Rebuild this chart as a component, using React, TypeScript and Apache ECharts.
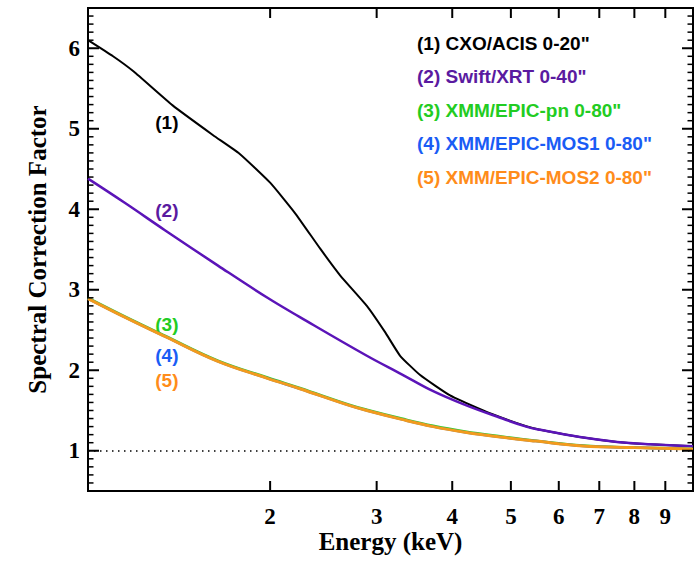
import React, { useEffect, useRef } from "react";
import * as echarts from "echarts";

// ---- data ----
const energyCXO = [1.0, 1.1, 1.19, 1.38, 1.61, 1.78, 2.0, 2.2, 2.42, 2.61, 2.89, 3.1, 3.28, 3.54, 3.96, 4.5, 4.93, 5.3, 5.59, 6.5, 7.49, 8.5, 10];
const factorCXO = [6.1, 5.9, 5.71, 5.29, 4.92, 4.69, 4.33, 3.95, 3.51, 3.18, 2.8, 2.47, 2.18, 1.94, 1.69, 1.5, 1.385, 1.305, 1.26, 1.17, 1.11, 1.08, 1.055];

const energyXRT = [1.0, 1.15, 1.34, 1.64, 1.98, 2.24, 2.89, 3.3, 3.72, 4.2, 4.8, 5.3, 5.59, 6.5, 7.49, 8.5, 10];
const factorXRT = [4.38, 4.08, 3.74, 3.3, 2.9, 2.66, 2.18, 1.95, 1.74, 1.57, 1.41, 1.3, 1.26, 1.17, 1.11, 1.08, 1.055];

const energyEPIC = [1.0, 1.15, 1.34, 1.64, 1.98, 2.24, 2.71, 2.89, 3.3, 3.72, 4.2, 4.8, 5.5, 6.58, 8, 9.6, 10];
const factorPN = [2.9, 2.67, 2.43, 2.12, 1.91, 1.78, 1.57, 1.51, 1.4, 1.31, 1.24, 1.18, 1.125, 1.065, 1.04, 1.028, 1.022];
const factorMOS1 = [2.89, 2.66, 2.42, 2.11, 1.9, 1.77, 1.56, 1.5, 1.39, 1.3, 1.23, 1.17, 1.12, 1.06, 1.04, 1.025, 1.02];
const factorMOS2 = [2.89, 2.66, 2.42, 2.11, 1.9, 1.77, 1.56, 1.5, 1.39, 1.3, 1.23, 1.17, 1.12, 1.06, 1.04, 1.025, 1.02];

const seriesNames = [
  '(1) CXO/ACIS 0-20"',
  '(2) Swift/XRT 0-40"',
  '(3) XMM/EPIC-pn 0-80"',
  '(4) XMM/EPIC-MOS1 0-80"',
  '(5) XMM/EPIC-MOS2 0-80"',
];
const curveTags = ["(1)", "(2)", "(3)", "(4)", "(5)"];
// label anchor positions in data space (energy keV, factor)
const tagEnergy = [1.35, 1.35, 1.35, 1.35, 1.35];
const tagFactor = [5.08, 3.99, 2.57, 2.18, 1.87];

// axis ranges and ticks
const X_MIN = 1;
const X_MAX = 10;
const Y_MIN = 0.5;
const Y_MAX = 6.5;
const xTickEnergies = [2, 3, 4, 5, 6, 7, 8, 9];
const yMajorTicks = [1, 2, 3, 4, 5, 6];
const yMinorStep = 0.1;
const referenceLevel = 1;

const lineColors = ["#000000", "#5b14b8", "#2ed02e", "#1a5cf5", "#f29b1d"];
const textColors = ["#000000", "#5a1aa0", "#22cc22", "#1a5cf5", "#ff8c1a"];
const lineWidths = [2, 2.5, 2.5, 2.5, 3];

const pairs = (xs: number[], ys: number[]) => xs.map((x, i) => [x, ys[i]]);

const W = 697;
const H = 562;
const G = { left: 88, right: 4, top: 8, bottom: 71 };

export default function App() {
  const ref = useRef<HTMLDivElement>(null);
  useEffect(() => {
    if (!ref.current) return;
    const chart = echarts.init(ref.current, null, { renderer: "svg" });
    const serif = "Liberation Serif";
    const sans = "Liberation Sans";

    const datasets = [
      pairs(energyCXO, factorCXO),
      pairs(energyXRT, factorXRT),
      pairs(energyEPIC, factorPN),
      pairs(energyEPIC, factorMOS1),
      pairs(energyEPIC, factorMOS2),
    ];

    const yTickValues: number[] = [];
    const nMinor = Math.round((Y_MAX - Y_MIN) / yMinorStep);
    for (let k = 1; k < nMinor; k++) yTickValues.push(Math.round((Y_MIN + k * yMinorStep) * 10) / 10);
    const isMajor = (v: number) => yMajorTicks.indexOf(Math.round(v * 10) / 10) >= 0;

    const tickSeries = (name: string, data: number[][], side: "bottom" | "top" | "left" | "right") => ({
      name,
      type: "custom",
      xAxisIndex: 0,
      yAxisIndex: 0,
      silent: true,
      z: 20,
      clip: false,
      encode: { x: 0, y: 1 },
      data,
      renderItem: (params: any, api: any) => {
        const c = api.coord([api.value(0), api.value(1)]);
        let dx = 0;
        let dy = 0;
        let lw = 2;
        if (side === "bottom") dy = -10;
        else if (side === "top") dy = 10;
        else {
          const major = isMajor(api.value(1));
          const len = major ? 11 : 5.5;
          lw = major ? 2 : 1.5;
          dx = side === "left" ? len : -len;
        }
        return {
          type: "line",
          shape: { x1: c[0], y1: c[1], x2: c[0] + dx, y2: c[1] + dy },
          style: { stroke: "#000", lineWidth: lw },
        };
      },
    });

    const xLabelData = xTickEnergies.map((e) => [e, Y_MIN]);

    const option: any = {
      animation: false,
      backgroundColor: "#fff",
      grid: {
        left: G.left,
        right: G.right,
        top: G.top,
        bottom: G.bottom,
        show: true,
        borderColor: "#000",
        borderWidth: 2,
        backgroundColor: "transparent",
      },
      legend: {
        orient: "vertical",
        left: 412,
        top: 33,
        padding: 0,
        icon: "none",
        itemWidth: 0,
        itemHeight: 20,
        itemGap: 13.5,
        selectedMode: false,
        textStyle: { fontFamily: sans, fontWeight: "bold", fontSize: 19, lineHeight: 20 },
        data: seriesNames.map((n, i) => ({ name: n, textStyle: { color: textColors[i] } })),
      },
      xAxis: [
        { type: "log", logBase: 10, min: X_MIN, max: X_MAX, show: false },
        {
          type: "value",
          position: "bottom",
          min: 0,
          max: 1,
          axisLine: { show: false },
          splitLine: { show: false },
          axisTick: { show: false },
          axisLabel: { show: false },
          name: "Energy (keV)",
          nameLocation: "middle",
          nameGap: 38,
          nameTextStyle: { fontFamily: serif, fontWeight: "bold", fontSize: 25, color: "#000" },
        },
      ],
      yAxis: [
        {
          type: "value",
          position: "left",
          min: Y_MIN,
          max: Y_MAX,
          interval: 0.5,
          axisLine: { show: false },
          splitLine: { show: false },
          axisTick: { show: false },
          axisLabel: {
            show: true,
            margin: 8,
            formatter: (v: number) => (yMajorTicks.indexOf(v) >= 0 ? String(v) : ""),
            fontFamily: serif,
            fontWeight: "bold",
            fontSize: 23,
            color: "#000",
          },
          name: "Spectral Correction Factor",
          nameLocation: "middle",
          nameGap: 38,
          nameRotate: 90,
          nameTextStyle: { fontFamily: serif, fontWeight: "bold", fontSize: 25, color: "#000" },
        },
      ],
      series: [
        ...datasets.map((d, i) => ({
          name: seriesNames[i],
          type: "line",
          xAxisIndex: 0,
          yAxisIndex: 0,
          data: d,
          showSymbol: false,
          symbol: "none",
          smooth: i === 0 ? 0.15 : 0.4,
          z: 2 + i,
          lineStyle: { color: lineColors[i], width: lineWidths[i] },
          itemStyle: { color: lineColors[i] },
          markPoint: {
            symbol: "circle",
            symbolSize: 0,
            silent: true,
            data: [
              {
                coord: [tagEnergy[i], tagFactor[i]],
                label: {
                  show: true,
                  position: "inside",
                  formatter: curveTags[i],
                  fontFamily: sans,
                  fontWeight: "bold",
                  fontSize: 19,
                  color: textColors[i],
                },
              },
            ],
          },
          markLine:
            i === 0
              ? {
                  silent: true,
                  symbol: "none",
                  label: { show: false },
                  lineStyle: { color: "#000", width: 1.5, type: [1.5, 4.5] },
                  data: [{ yAxis: referenceLevel }],
                }
              : undefined,
        })),
        tickSeries("ticks bottom", xTickEnergies.map((e) => [e, Y_MIN]), "bottom"),
        tickSeries("ticks top", xTickEnergies.map((e) => [e, Y_MAX]), "top"),
        tickSeries("ticks left", yTickValues.map((v) => [X_MIN, v]), "left"),
        tickSeries("ticks right", yTickValues.map((v) => [X_MAX, v]), "right"),
        {
          name: "energy labels",
          type: "custom",
          xAxisIndex: 0,
          yAxisIndex: 0,
          silent: true,
          z: 20,
          clip: false,
          encode: { x: 0, y: 1 },
          data: xLabelData,
          renderItem: (params: any, api: any) => {
            const c = api.coord([api.value(0), api.value(1)]);
            return {
              type: "text",
              x: c[0],
              y: c[1] + 14,
              style: {
                text: String(api.value(0)),
                fill: "#000",
                font: `bold 23px "${serif}"`,
                fontFamily: serif,
                fontWeight: "bold",
                fontSize: 23,
                align: "center",
                textAlign: "center",
                verticalAlign: "top",
                textVerticalAlign: "top",
              },
            };
          },
        },
      ],
    };
    chart.setOption(option);
    return () => chart.dispose();
  }, []);
  return <div ref={ref} style={{ position: "fixed", left: 0, top: 0, width: W, height: H }} />;
}
